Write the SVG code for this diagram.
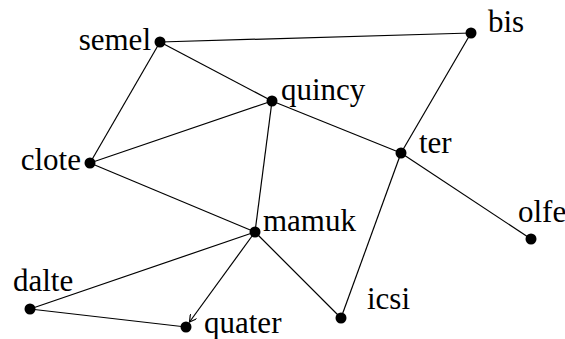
<svg xmlns="http://www.w3.org/2000/svg" width="565" height="339" viewBox="0 0 565 339">
  <style>
    .edge { stroke: #000; stroke-width: 1.2; fill: none; }
    .dot { fill: #000; }
    .lbl { font-family: 'Liberation Serif', 'Times New Roman', serif; font-size: 31px; fill: #000; }
  </style>
  <defs>
    <marker id="arrow" markerWidth="8" markerHeight="8" refX="7" refY="4" orient="auto" markerUnits="userSpaceOnUse">
      <path d="M0,0 L7,4 L0,8" fill="none" stroke="#000" stroke-width="1.2"/>
    </marker>
  </defs>
  <rect width="565" height="339" fill="#fff"/>
  <!-- undirected edges, plus one directed edge mamuk -> quater -->
  <g id="connectors">
    <line class="edge" x1="160" y1="42" x2="471" y2="33"/>
    <line class="edge" x1="160" y1="42" x2="272" y2="101"/>
    <line class="edge" x1="160" y1="42" x2="90" y2="163"/>
    <line class="edge" x1="272" y1="101" x2="90" y2="163"/>
    <line class="edge" x1="272" y1="101" x2="401" y2="153"/>
    <line class="edge" x1="272" y1="101" x2="255" y2="232"/>
    <line class="edge" x1="90" y1="163" x2="255" y2="232"/>
    <line class="edge" x1="401" y1="153" x2="471" y2="33"/>
    <line class="edge" x1="401" y1="153" x2="531" y2="239"/>
    <line class="edge" x1="401" y1="153" x2="341" y2="318"/>
    <line class="edge" x1="255" y1="232" x2="30" y2="309"/>
    <line class="edge" x1="255" y1="232" x2="341" y2="318"/>
    <line class="edge" x1="30" y1="309" x2="186" y2="327"/>
    <line class="edge" x1="255" y1="232" x2="189.5" y2="322" marker-end="url(#arrow)"/>
  </g>
  <g id="semel"><circle class="dot" cx="160" cy="42" r="5.5"/><text class="lbl" x="151" y="50" text-anchor="end">semel</text></g>
  <g id="bis"><circle class="dot" cx="471" cy="33" r="5.5"/><text class="lbl" x="488" y="32">bis</text></g>
  <g id="quincy"><circle class="dot" cx="272" cy="101" r="5.5"/><text class="lbl" x="281" y="100">quincy</text></g>
  <g id="clote"><circle class="dot" cx="90" cy="163" r="5.5"/><text class="lbl" x="81" y="170" text-anchor="end">clote</text></g>
  <g id="ter"><circle class="dot" cx="401" cy="153" r="5.5"/><text class="lbl" x="419" y="153">ter</text></g>
  <g id="olfe"><circle class="dot" cx="531" cy="239" r="5.5"/><text class="lbl" x="518" y="222">olfe</text></g>
  <g id="mamuk"><circle class="dot" cx="255" cy="232" r="5.5"/><text class="lbl" x="263" y="231">mamuk</text></g>
  <g id="dalte"><circle class="dot" cx="30" cy="309" r="5.5"/><text class="lbl" x="13" y="291">dalte</text></g>
  <g id="quater"><circle class="dot" cx="186" cy="327" r="5.5"/><text class="lbl" x="204" y="333">quater</text></g>
  <g id="icsi"><circle class="dot" cx="341" cy="318" r="5.5"/><text class="lbl" x="367" y="309">icsi</text></g>
</svg>
